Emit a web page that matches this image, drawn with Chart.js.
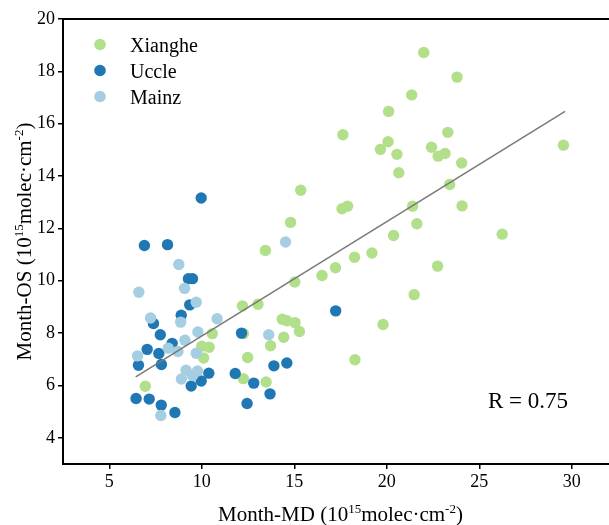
<!DOCTYPE html>
<html>
<head>
<meta charset="utf-8">
<script src="https://cdn.jsdelivr.net/npm/chart.js@4.4.0/dist/chart.umd.min.js"></script>
<style>
  html, body { margin: 0; padding: 0; background: #fff; overflow: hidden; }
  #wrap { width: 625px; height: 525px; }
</style>
</head>
<body>
<div id="wrap"><canvas id="chart" width="625" height="525"></canvas></div>
<script>
// Month-MD vs Month-OS, 10^15 molec/cm2
const seriesNames = ['Xianghe', 'Uccle', 'Mainz'];
const seriesColors = ['#b2df8a', '#1f78b4', '#a6cee3'];

const xiangheMD = [22.0, 23.8, 21.35, 20.1, 17.63, 23.3, 20.07, 19.66, 22.42, 20.55, 22.78, 23.15, 29.55, 24.05, 20.65, 15.35, 23.4, 17.58, 17.88, 21.4, 24.07, 14.8, 21.63, 20.37, 26.24, 13.44, 19.2, 18.26, 16.5, 17.23, 22.75, 15.03, 21.48, 12.2, 13.04, 19.8, 14.35, 14.6, 15.04, 15.28, 14.43, 13.72, 10.57, 12.25, 10.0, 10.4, 10.1, 12.48, 18.28, 12.25, 13.48, 6.95];
const xiangheOS = [18.72, 17.78, 17.1, 16.47, 15.58, 15.67, 15.31, 15.02, 15.1, 14.83, 14.76, 14.86, 15.18, 14.5, 14.13, 13.46, 13.68, 12.75, 12.85, 12.85, 12.86, 12.23, 12.18, 11.73, 11.78, 11.16, 11.06, 10.9, 10.2, 10.5, 10.56, 9.95, 9.47, 9.04, 9.1, 8.33, 8.53, 8.47, 8.4, 8.06, 7.84, 7.52, 7.98, 7.98, 7.5, 7.46, 7.05, 7.07, 6.98, 6.26, 6.13, 5.97];

const uccleMD = [9.97, 6.9, 8.15, 9.28, 9.5, 9.35, 8.89, 7.39, 7.76, 8.4, 12.15, 17.24, 7.05, 7.68, 6.58, 7.82, 13.9, 14.6, 10.38, 11.81, 9.97, 9.43, 12.81, 13.69, 12.45, 6.45, 7.16, 7.81, 8.55];
const uccleOS = [13.16, 11.35, 11.38, 10.08, 10.08, 9.08, 8.68, 8.37, 7.94, 7.61, 8.0, 8.85, 7.38, 7.22, 6.77, 6.8, 6.75, 6.86, 6.47, 6.46, 6.17, 5.98, 6.09, 5.68, 5.31, 5.5, 5.48, 5.25, 4.97];

const mainzMD = [14.53, 8.76, 6.6, 9.07, 9.7, 7.23, 8.86, 10.83, 9.79, 13.62, 9.09, 8.19, 8.71, 6.53, 9.7, 9.15, 9.77, 9.5, 8.9, 7.79];
const mainzOS = [11.48, 10.62, 9.56, 9.71, 9.18, 8.58, 8.42, 8.55, 8.04, 7.94, 7.73, 7.42, 7.3, 7.13, 7.23, 6.58, 6.55, 6.38, 6.25, 4.85];

// linear fit shown in the figure
const fitSlope = 0.437;
const fitIntercept = 3.52;
const fitRange = [6.43, 29.64];
const rText = 'R = 0.75';

const xTicks = [5, 10, 15, 20, 25, 30];
const yTicks = [4, 6, 8, 10, 12, 14, 16, 18, 20];

const FONT = '"Liberation Serif", "Times New Roman", serif';

function toPoints(xs, ys) {
  return xs.map((x, i) => ({ x: x, y: ys[i] }));
}

// draws "label (10^15molec·cm^-2)" with real superscripts
function unitParts(label) {
  return [[label + ' (10', false], ['15', true], ['molec\u00B7cm', false], ['-2', true], [')', false]];
}

function drawParts(ctx, parts, size, cx, baseY) {
  const supSize = Math.round(size * 0.62);
  let total = 0;
  parts.forEach(p => {
    ctx.font = (p[1] ? supSize : size) + 'px ' + FONT;
    total += ctx.measureText(p[0]).width;
  });
  let x = cx - total / 2;
  parts.forEach(p => {
    ctx.font = (p[1] ? supSize : size) + 'px ' + FONT;
    ctx.fillText(p[0], x, p[1] ? baseY - size * 0.4 : baseY);
    x += ctx.measureText(p[0]).width;
  });
}

const decorations = {
  id: 'decorations',
  afterDraw(chart) {
    const { ctx, chartArea } = chart;
    ctx.save();
    // top frame line
    ctx.strokeStyle = '#000';
    ctx.lineWidth = 2;
    ctx.beginPath();
    ctx.moveTo(chartArea.left - 1, chartArea.top);
    ctx.lineTo(chartArea.right + 1, chartArea.top);
    ctx.moveTo(chartArea.right, chartArea.top);
    ctx.lineTo(chartArea.right, chartArea.bottom);
    ctx.stroke();

    ctx.fillStyle = '#000';
    ctx.textAlign = 'left';
    ctx.textBaseline = 'alphabetic';

    // axis titles
    const midX = (chartArea.left + chartArea.right) / 2;
    const midY = (chartArea.top + chartArea.bottom) / 2;
    drawParts(ctx, unitParts('Month-MD'), 21, midX, 521);
    ctx.save();
    ctx.translate(31, midY);
    ctx.rotate(-Math.PI / 2);
    drawParts(ctx, unitParts('Month-OS'), 21, 0, 0);
    ctx.restore();

    // legend
    seriesNames.forEach((name, i) => {
      const y = 44.5 + i * 26;
      ctx.fillStyle = seriesColors[i];
      ctx.beginPath();
      ctx.arc(100, y, 5.8, 0, Math.PI * 2);
      ctx.fill();
      ctx.fillStyle = '#000';
      ctx.font = '20px ' + FONT;
      ctx.fillText(name, 130, y + 7.5);
    });

    // correlation
    ctx.font = '23px ' + FONT;
    ctx.fillText(rText, 488, 408);
    ctx.restore();
  }
};

const tickFont = { family: FONT, size: 18 };

new Chart(document.getElementById('chart'), {
  type: 'scatter',
  data: {
    datasets: [
      {
        type: 'line',
        label: 'fit',
        data: fitRange.map(x => ({ x: x, y: fitIntercept + fitSlope * x })),
        borderColor: '#7a7a7a',
        borderWidth: 1.6,
        pointRadius: 0,
        fill: false,
        order: 0
      },
      {
        label: seriesNames[2],
        data: toPoints(mainzMD, mainzOS),
        backgroundColor: seriesColors[2],
        borderWidth: 0,
        pointRadius: 5.7,
        order: 1
      },
      {
        label: seriesNames[1],
        data: toPoints(uccleMD, uccleOS),
        backgroundColor: seriesColors[1],
        borderWidth: 0,
        pointRadius: 5.7,
        order: 2
      },
      {
        label: seriesNames[0],
        data: toPoints(xiangheMD, xiangheOS),
        backgroundColor: seriesColors[0],
        borderWidth: 0,
        pointRadius: 5.7,
        order: 3
      }
    ]
  },
  options: {
    responsive: false,
    animation: false,
    layout: { padding: { top: 19, right: 7, left: 0, bottom: 0 } },
    plugins: {
      legend: { display: false },
      tooltip: { enabled: false }
    },
    scales: {
      x: {
        type: 'linear',
        min: 2.5,
        max: 32.5,
        afterBuildTicks: s => { s.ticks = xTicks.map(v => ({ value: v })); },
        afterFit: s => { s.height = 61; },
        ticks: { color: '#000', font: tickFont, padding: 2 },
        grid: { drawOnChartArea: false, color: '#000', tickLength: 5, lineWidth: 1.5 },
        border: { color: '#000', width: 2 }
      },
      y: {
        type: 'linear',
        min: 3,
        max: 20,
        afterBuildTicks: s => { s.ticks = yTicks.map(v => ({ value: v })); },
        afterFit: s => { s.width = 63; },
        ticks: { color: '#000', font: tickFont, padding: 3 },
        grid: { drawOnChartArea: false, color: '#000', tickLength: 5, lineWidth: 1.5 },
        border: { color: '#000', width: 2 }
      }
    }
  },
  plugins: [decorations]
});
</script>
</body>
</html>
